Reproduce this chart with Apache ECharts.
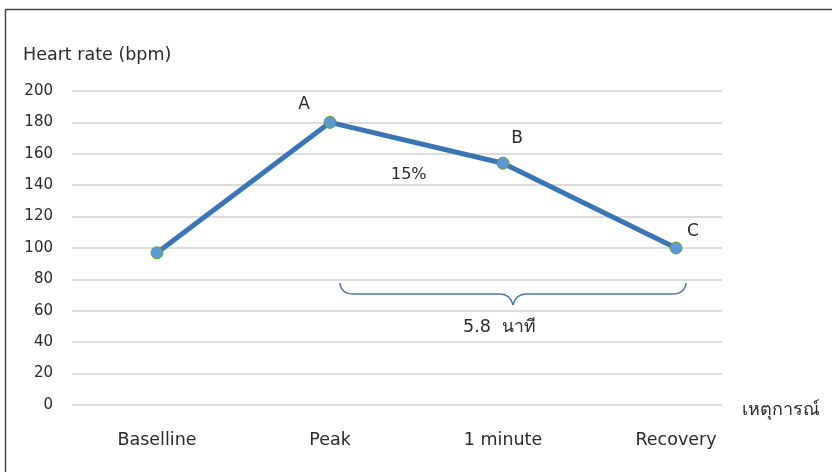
<!DOCTYPE html>
<html><head><meta charset="utf-8">
<script src="https://cdn.jsdelivr.net/npm/echarts@6/dist/echarts.min.js"></script>
<style>html,body{margin:0;padding:0;background:#fff}#c{width:832px;height:472px}</style>
</head><body><div id="c"></div>
<script>
var categories = ['Baselline', 'Peak', '1 minute', 'Recovery'];
var heartRate = [97, 180, 154, 100];
var pointLabels = ['', 'A', 'B', 'C'];
var yTicks = [0, 20, 40, 60, 80, 100, 120, 140, 160, 180, 200];
var yTitle = 'Heart rate (bpm)';
var xTitle = 'เหตุการณ์';
var dropNote = '15%';
var durationNote = '5.8  นาที';

var FONT = 'DejaVu Sans, sans-serif';
var TXT = '#2a2a2a';
var chart = echarts.init(document.getElementById('c'), null, {renderer: 'canvas'});
var labelOffsets = [[0,0],[-26,3],[14,-4],[17,5]];
var braceStyle = {fill: 'none', stroke: '#4a74ac', lineWidth: 1.5};
function bez(x1,y1,cx,cy,x2,y2){ return {type:'bezierCurve', shape:{x1:x1,y1:y1,cpx1:cx,cpy1:cy,x2:x2,y2:y2}, style: braceStyle}; }
function ln(x1,y1,x2,y2,st){ return {type:'line', shape:{x1:x1,y1:y1,x2:x2,y2:y2}, style: st || braceStyle}; }
var option = {
  animation: false,
  grid: [
    {left: 72, right: 110, top: 91, bottom: 67},
    {left: 70.5, right: 69.5, top: 91, bottom: 67}
  ],
  xAxis: [
    {gridIndex: 0, type: 'category', data: categories, show: false},
    {gridIndex: 1, type: 'category', data: categories, boundaryGap: true,
     axisLine: {show: false}, axisTick: {show: false}, splitLine: {show: false},
     axisLabel: {color: TXT, fontSize: 17.5, fontFamily: FONT, margin: 26}}
  ],
  yAxis: [
    {gridIndex: 0, type: 'value', min: yTicks[0], max: yTicks[yTicks.length-1], interval: 20,
     axisLine: {show: false}, axisTick: {show: false},
     splitLine: {lineStyle: {color: '#d0d0d0', width: 1.5}},
     axisLabel: {color: TXT, fontSize: 15, fontFamily: FONT, margin: 19}},
    {gridIndex: 1, type: 'value', min: yTicks[0], max: yTicks[yTicks.length-1], interval: 20, show: false}
  ],
  series: [{
    type: 'line', xAxisIndex: 1, yAxisIndex: 1,
    data: heartRate.map(function(v, i){
      return {value: v, label: {show: !!pointLabels[i], offset: labelOffsets[i]}};
    }),
    symbol: 'circle', symbolSize: 12,
    itemStyle: {color: '#5b9bd5', borderColor: '#6a9a3a', borderWidth: 1},
    lineStyle: {color: '#3a76b6', width: 5},
    label: {show: true, position: 'top', distance: 6,
      formatter: function(p){ return pointLabels[p.dataIndex]; },
      color: TXT, fontSize: 17, fontFamily: FONT}
  }],
  graphic: [
    ln(5.5, 9, 5.5, 472, {stroke: '#444', lineWidth: 1.5}),
    ln(5, 9.5, 832, 9.5, {stroke: '#444', lineWidth: 1.5}),
    {type: 'text', x: 23, y: 46, style: {text: yTitle, fill: TXT, fontSize: 17.5, fontFamily: FONT}},
    {type: 'text', x: 742, y: 401, style: {text: xTitle, fill: TXT, fontSize: 18, fontFamily: FONT}},
    {type: 'text', x: 391, y: 167, style: {text: dropNote, fill: TXT, fontSize: 16, fontFamily: FONT}},
    {type: 'text', x: 463, y: 318, style: {text: durationNote, fill: TXT, fontSize: 17.5, fontFamily: FONT}},
    bez(340,283, 341,294, 354,294),
    ln(354,294, 500,294),
    bez(500,294, 510,294, 513,305),
    bez(513,305, 516,294, 526,294),
    ln(526,294, 672,294),
    bez(672,294, 685,294, 686,283)
  ]
};
chart.setOption(option);
</script></body></html>
